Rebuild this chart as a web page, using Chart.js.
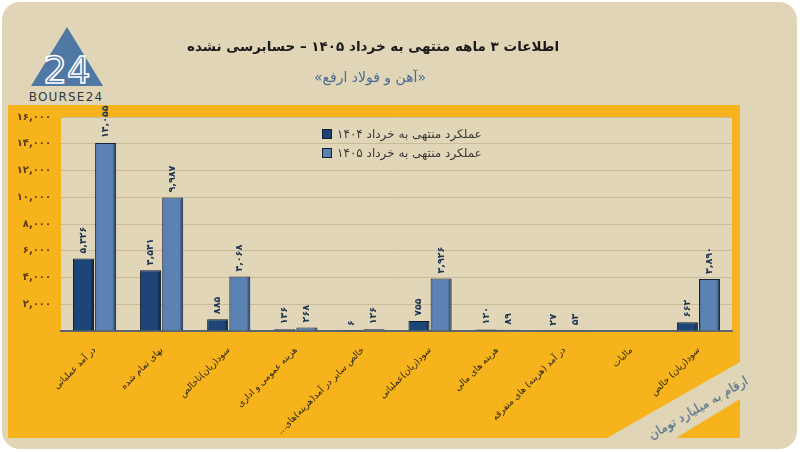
<!DOCTYPE html>
<html>
<head>
<meta charset="utf-8">
<script src="https://cdn.jsdelivr.net/npm/chart.js@4/dist/chart.umd.min.js"></script>
<style>
  html, body { margin: 0; padding: 0; background: #fff; }
  #wrap { position: relative; width: 800px; height: 452px; overflow: hidden; font-family: "DejaVu Sans", sans-serif; }
  #bg, #c { position: absolute; left: 0; top: 0; }
  .title { position: absolute; left: 173px; width: 400px; top: 38px; text-align: center; direction: rtl;
           font-weight: bold; font-size: 13.5px; color: #1b1b1b; }
  .sub { position: absolute; left: 270px; width: 200px; top: 69px; text-align: center; direction: rtl;
         font-size: 14px; color: #4b6b92; }
  .legend { position: absolute; left: 322px; top: 124px; font-size: 12px; color: #3a3a3a; }
  .legend div { display: flex; align-items: center; height: 19px; }
  .legend i { display: inline-block; width: 8px; height: 8px; margin-right: 5px; border: 1px solid #0f1f33; }
  .legend span { direction: rtl; }
  .unit { position: absolute; left: 628px; top: 400px; width: 140px; text-align: center; direction: rtl;
          font-size: 12.5px; color: #3e5f86; transform: rotate(-30deg); transform-origin: center; }
</style>
</head>
<body>
<div id="wrap">
  <svg id="bg" width="800" height="452">
    <rect x="2" y="2" width="795" height="447" rx="18" fill="#e0d5b6"/>
    <polygon points="8,105 740,105 740,362 607,438 8,438" fill="#f6b31b"/>
    <polygon points="740,399 740,438 676,438" fill="#f6b31b"/>
    <polygon points="67,27 31,86 103,86" fill="#4f78a5"/>
    <text x="67" y="83" text-anchor="middle" font-family="DejaVu Sans" font-size="37" fill="none" stroke="#ffffff" stroke-width="1.6">24</text>
    <text x="66" y="101" text-anchor="middle" font-family="DejaVu Sans" font-size="12" letter-spacing="1.2" fill="#2e3a48">BOURSE24</text>
  </svg>
  <canvas id="c" width="800" height="452"></canvas>
  <div class="title">اطلاعات ۳ ماهه منتهی به خرداد ۱۴۰۵ – حسابرسی نشده</div>
  <div class="sub">«آهن و فولاد ارفع»</div>
  <div class="legend">
    <div><i style="background:#1c4373"></i><span>عملکرد منتهی به خرداد ۱۴۰۴</span></div>
    <div><i style="background:#5a80b0"></i><span>عملکرد منتهی به خرداد ۱۴۰۵</span></div>
  </div>
  <div class="unit">ارقام به میلیارد تومان</div>
</div>
<script>
const categories = [
  'در آمد عملیاتی',
  'بهای تمام شده',
  'سود(زیان)ناخالص',
  'هزینه عمومی و اداری',
  'خالص سایر در آمد(هزینه)های...',
  'سود(زیان)عملیاتی',
  'هزینه های مالی',
  'در آمد (هزینه) های متفرقه',
  'مالیات',
  'سود(زیان) خالص'
];
const values1404 = [5426, 4541, 885, 136, 6, 755, 120, 27, null, 662];
const values1405 = [14055, 9987, 4068, 268, 126, 3926, 89, 53, null, 3890];
const seriesNames = ['عملکرد منتهی به خرداد ۱۴۰۴', 'عملکرد منتهی به خرداد ۱۴۰۵'];

const CAT_PCT = 0.66, BAR_PCT = 0.95;

function faNum(n) {
  const s = Number(n).toLocaleString('en-US');
  return s.replace(/[0-9]/g, d => '۰۱۲۳۴۵۶۷۸۹'[d]);
}

// horizontal shading so the bars look a bit rounded like the original
function barShade(edge, body, dark) {
  return context => {
    const chart = context.chart, xs = chart.scales.x;
    if (!xs || context.dataIndex === undefined) return body;
    const step = xs.width / chart.data.labels.length;
    const w = step * CAT_PCT / 2;
    const c = xs.getPixelForValue(context.dataIndex);
    const left = context.datasetIndex === 0 ? c - w : c;
    if (!isFinite(left) || !isFinite(w) || w <= 0) return body;
    const g = chart.ctx.createLinearGradient(left, 0, left + w, 0);
    g.addColorStop(0, edge);
    g.addColorStop(0.15, body);
    g.addColorStop(0.8, body);
    g.addColorStop(1, dark);
    return g;
  };
}

Chart.defaults.font.family = '"DejaVu Sans", sans-serif';

const areaFill = {
  id: 'areaFill',
  beforeDraw(chart) {
    const a = chart.chartArea, ctx = chart.ctx;
    ctx.save();
    ctx.fillStyle = '#e1d6b8';
    ctx.fillRect(a.left, a.top, a.right - a.left, a.bottom - a.top);
    ctx.restore();
  }
};

const barLabels = {
  id: 'barLabels',
  afterDatasetsDraw(chart) {
    const ctx = chart.ctx;
    ctx.save();
    ctx.font = 'bold 9.5px "DejaVu Sans"';
    ctx.fillStyle = '#1e3552';
    ctx.textAlign = 'left';
    ctx.textBaseline = 'middle';
    chart.data.datasets.forEach((ds, i) => {
      chart.getDatasetMeta(i).data.forEach((bar, j) => {
        const v = ds.data[j];
        if (v === null) return;
        ctx.save();
        ctx.translate(bar.x, bar.y - 5);
        ctx.rotate(-Math.PI / 2);
        ctx.fillText(faNum(v), 0, 0);
        ctx.restore();
      });
    });
    ctx.restore();
  }
};

new Chart(document.getElementById('c').getContext('2d'), {
  type: 'bar',
  data: {
    labels: categories.map(c => c + '\u200F'),
    datasets: [
      {
        label: seriesNames[0],
        data: values1404,
        backgroundColor: barShade('#173a66', '#1d4577', '#0a1626'),
        borderColor: '#0c1a2c',
        borderWidth: 1,
        categoryPercentage: CAT_PCT,
        barPercentage: BAR_PCT
      },
      {
        label: seriesNames[1],
        data: values1405,
        backgroundColor: barShade('#3d6494', '#5b82b2', '#16263c'),
        borderColor: '#14243a',
        borderWidth: 1,
        categoryPercentage: CAT_PCT,
        barPercentage: BAR_PCT
      }
    ]
  },
  options: {
    responsive: false,
    animation: false,
    layout: { padding: { left: 8, right: 68, top: 117, bottom: 0 } },
    plugins: { legend: { display: false }, tooltip: { enabled: false } },
    scales: {
      x: {
        grid: { display: false },
        border: { color: '#5b666f', width: 2 },
        ticks: {
          color: '#2a2418',
          font: { size: 9 },
          minRotation: 45,
          maxRotation: 45,
          autoSkip: false,
          padding: 6
        },
        afterFit: s => { s.height = 121; }
      },
      y: {
        min: 0,
        max: 16000,
        grid: { color: '#c7bb9a', drawTicks: false },
        border: { display: false },
        ticks: {
          stepSize: 2000,
          color: '#5a3a18',
          font: { size: 10, weight: 'bold' },
          padding: 10,
          callback: v => v === 0 ? '' : faNum(v)
        },
        afterFit: s => { s.width = 53; }
      }
    }
  },
  plugins: [areaFill, barLabels]
});
</script>
</body>
</html>
